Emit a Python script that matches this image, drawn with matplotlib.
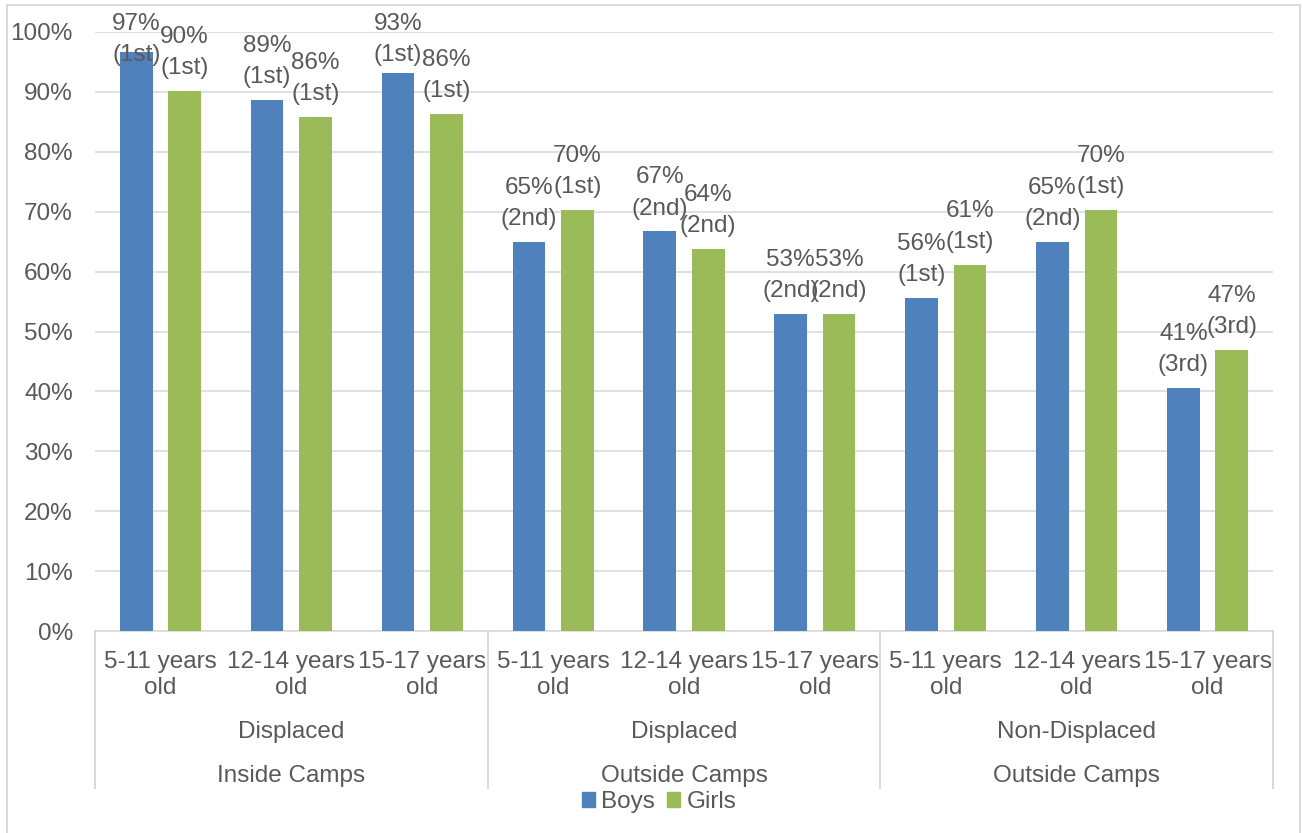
import matplotlib.pyplot as plt
from matplotlib.patches import Patch, Rectangle
from matplotlib.ticker import PercentFormatter
import numpy as np

plt.rcParams['font.family'] = ['Liberation Sans', 'DejaVu Sans']

# data
age_groups = ["5-11 years\nold", "12-14 years\nold", "15-17 years\nold"] * 3
status = ["Displaced", "Displaced", "Non-Displaced"]
location = ["Inside Camps", "Outside Camps", "Outside Camps"]
boys = [96.6, 88.6, 93.2, 64.9, 66.7, 52.9, 55.6, 64.9, 40.6]
girls = [90.1, 85.8, 86.3, 70.3, 63.7, 52.9, 61.1, 70.3, 46.9]
boys_rank = ["1st", "1st", "1st", "2nd", "2nd", "2nd", "1st", "2nd", "3rd"]
girls_rank = ["1st", "1st", "1st", "1st", "2nd", "2nd", "1st", "1st", "3rd"]

blue = '#4F81BD'
green = '#9BBB59'
txt = '#595959'
grid = '#D9D9D9'
fs = 17.5

W, H = 1302, 833
fig = plt.figure(figsize=(W / 100, H / 100), dpi=100)
ax = fig.add_axes([95 / W, (H - 631) / H, (1273 - 95) / W, (631 - 32) / H])

x = np.arange(len(boys))
bw = 0.25
off = 0.185
ax.bar(x - off, boys, bw, color=blue, zorder=3)
ax.bar(x + off, girls, bw, color=green, zorder=3)

# data labels, pushed down when they would leave the chart
for xs, vals, ranks in [(x - off, boys, boys_rank), (x + off, girls, girls_rank)]:
    for xi, v, r in zip(xs, vals, ranks):
        ax.text(xi, min(v + 10.9, 103.2), f"{v:.0f}%\n({r})",
                ha='center', va='top', fontsize=fs, color=txt,
                linespacing=1.55, clip_on=False, zorder=4)

ax.set_ylim(0, 100)
ax.set_xlim(-0.5, len(boys) - 0.5)
ax.set_yticks(np.arange(0, 101, 10))
ax.yaxis.set_major_formatter(PercentFormatter(decimals=0))
ax.grid(axis='y', color=grid, linewidth=1.1, zorder=0)
ax.set_xticks(x)
ax.set_xticklabels(age_groups, linespacing=1.22)
ax.tick_params(axis='x', length=0, pad=14.5, labelsize=fs, labelcolor=txt)
ax.tick_params(axis='y', length=0, pad=16, labelsize=fs, labelcolor=txt)

for s in ['top', 'right', 'left']:
    ax.spines[s].set_visible(False)
ax.spines['bottom'].set_color(grid)
ax.spines['bottom'].set_linewidth(1.1)

# multi-level category axis
tr = ax.get_xaxis_transform()
for g in range(3):
    cx = g * 3 + 1
    ax.text(cx, -0.1786, status[g], transform=tr, ha='center', va='baseline',
            fontsize=fs, color=txt)
    ax.text(cx, -0.252, location[g], transform=tr, ha='center', va='baseline',
            fontsize=fs, color=txt)
for sx in [-0.5, 2.5, 5.5, 8.5]:
    ax.plot([sx, sx], [0, -0.262], transform=tr, color=grid, linewidth=1.4,
            clip_on=False)

handles = [Patch(color=blue, label='Boys'), Patch(color=green, label='Girls')]
fig.legend(handles=handles, loc='center', bbox_to_anchor=(659 / W, (H - 802) / H),
           ncol=2, frameon=False, fontsize=fs, labelcolor=txt,
           handlelength=0.55, handleheight=0.55, handletextpad=0.25,
           columnspacing=0.5)

# chart area border
fig.patches.append(Rectangle((7 / W, -0.01), (1300 - 7) / W, (H - 5) / H + 0.01,
                             transform=fig.transFigure, fill=False,
                             edgecolor=grid, linewidth=1.4))

fig.savefig('out.png', dpi=100)
